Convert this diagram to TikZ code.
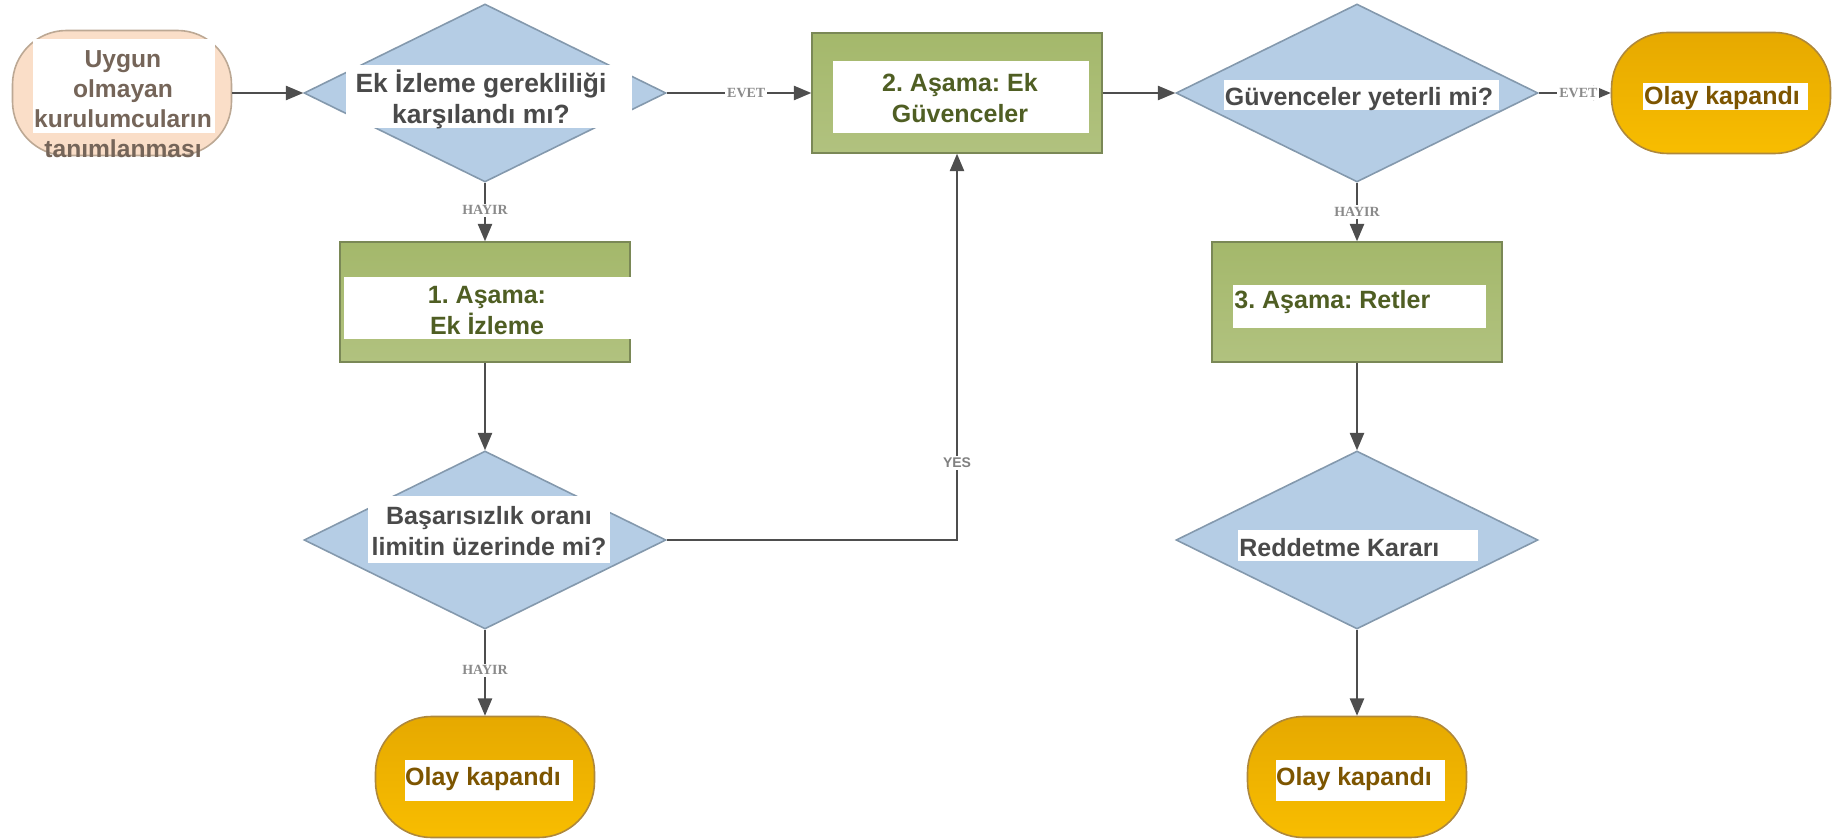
\documentclass[tikz,border=0pt]{standalone}
\usepackage{fontspec}
\setmainfont{Liberation Sans}
\newfontfamily\evetserif{Liberation Serif}
\usetikzlibrary{arrows,shapes.geometric}
\frenchspacing

\definecolor{diafill}{HTML}{B5CDE5}
\definecolor{diaedge}{HTML}{8499AD}
\definecolor{stagetop}{HTML}{A4B86B}
\definecolor{stagebot}{HTML}{B1C27F}
\definecolor{stageedge}{HTML}{7A8856}
\definecolor{closetop}{HTML}{E6A900}
\definecolor{closebot}{HTML}{F8BD00}
\definecolor{closeedge}{HTML}{AE883C}
\definecolor{startfill}{HTML}{FADEC8}
\definecolor{startedge}{HTML}{BCA894}
\definecolor{linegray}{HTML}{4E4E4E}
\definecolor{ynGray}{HTML}{8A8A8A}
\definecolor{diatext}{HTML}{4A4A4A}
\definecolor{stagetext}{HTML}{4F5E23}
\definecolor{closetext}{HTML}{7D5500}
\definecolor{starttext}{HTML}{756559}

\newcommand{\nodefont}{\fontsize{12.5}{15.5}\selectfont\bfseries}
\newcommand{\bigqfont}{\fontsize{13.2}{15.5}\selectfont\bfseries}
\newcommand{\startfont}{\fontsize{12.3}{15}\selectfont\bfseries}
\newcommand{\ynfont}{\evetserif\fontsize{7}{8}\selectfont\bfseries}

\begin{document}
\begin{tikzpicture}[x=0.5pt,y=-0.5pt]
\tikzstyle{every node}=[inner sep=0pt]
\tikzstyle{dia}=[diamond, draw=diaedge, fill=diafill, line width=.8pt, minimum width=181pt, minimum height=89pt]
\tikzstyle{stage}=[rectangle, draw=stageedge, top color=stagetop, bottom color=stagebot, line width=.8pt, minimum width=145pt, minimum height=60pt]
\tikzstyle{endbox}=[rectangle, rounded corners=28pt, draw=closeedge, top color=closetop, bottom color=closebot, line width=.8pt, minimum width=109.5pt, minimum height=60.5pt]
\tikzstyle{startbox}=[rectangle, rounded corners=27pt, draw=startedge, fill=startfill, line width=.8pt, minimum width=109.5pt, minimum height=62.5pt]
\tikzstyle{txt}=[align=center, font=\nodefont]
\tikzstyle{arr}=[draw=linegray, line width=1pt, -triangle 45]
\tikzstyle{yn}=[font=\ynfont, text=ynGray, fill=white, inner sep=1pt]
\useasboundingbox (0,0) rectangle (1841,840);

% shapes
\draw (122,93) node (s) [startbox] {};
\draw (485,93) node (d1) [dia] {};
\draw (957,93) node (b2) [stage] {};
\draw (1357,93) node (d2) [dia] {};
\draw (1721,93) node (e2) [endbox] {};
\draw (485,302) node (b1) [stage] {};
\draw (1357,302) node (b3) [stage] {};
\draw (485,540) node (d3) [dia] {};
\draw (1357,540) node (d4) [dia] {};
\draw (485,777) node (e1) [endbox] {};
\draw (1357,777) node (e3) [endbox] {};

% white boxes behind the texts
\fill[white] (33,39) rectangle (215,133);
\fill[white] (346,65) rectangle (632,128);
\fill[white] (833,61) rectangle (1089,133);
\fill[white] (1224,80) rectangle (1499,110);
\fill[white] (1643,83) rectangle (1808,110);
\fill[white] (344,277) rectangle (635,339);
\fill[white] (1233,285) rectangle (1486,328);
\fill[white] (368,496) rectangle (610,563);
\fill[white] (1238,530) rectangle (1478,561);
\fill[white] (405,760) rectangle (573,801);
\fill[white] (1276,760) rectangle (1445,801);

% texts
\draw (123,104) node (ts) [txt, font=\startfont, text=starttext] {Uygun\\olmayan\\kurulumcuların\\tanımlanması};
\draw (481,99) node (t1) [txt, font=\bigqfont, text=diatext] {Ek İzleme gerekliliği\\karşılandı mı?};
\draw (960,98) node (t2) [txt, text=stagetext] {2. Aşama: Ek\\Güvenceler};
\draw (1359,99) node (t3) [txt, text=diatext] {Güvenceler yeterli mi?};
\draw (1722,98) node (t4) [txt, text=closetext] {Olay kapandı};
\draw (487,311) node (t5) [txt, text=stagetext] {1. Aşama:\\Ek İzleme};
\draw (1234,302) node (t6) [txt, anchor=west, text=stagetext] {3. Aşama: Retler};
\draw (489,531) node (t7) [txt, text=diatext] {Başarısızlık oranı\\limitin üzerinde mi?};
\draw (1239,548) node (t8) [txt, anchor=west, text=diatext] {Reddetme Kararı};
\draw (483,779) node (t9) [txt, text=closetext] {Olay kapandı};
\draw (1354,779) node (t10) [txt, text=closetext] {Olay kapandı};

% connectors
\draw[arr] (s) -- (d1);
\draw[arr] (d1) -- node[yn, pos=.55] {EVET} (b2);
\draw[arr] (d1) -- node[yn, pos=.47] {HAYIR} (b1);
\draw[arr] (b1) -- (d3);
\draw[arr] (d3) -- node[yn, pos=.47] {HAYIR} (e1);
\draw[arr] (d3) -| node[yn, pos=.6, font=\fontsize{7}{8}\selectfont\bfseries, text=gray] {YES} (b2);
\draw[arr] (b2) -- (d2);
\draw[arr] (d2) -- node[yn, pos=.55] {EVET} (e2);
\draw[arr] (d2) -- node[yn, pos=.5] {HAYIR} (b3);
\draw[arr] (b3) -- (d4);
\draw[arr] (d4) -- (e3);
\end{tikzpicture}
\end{document}
